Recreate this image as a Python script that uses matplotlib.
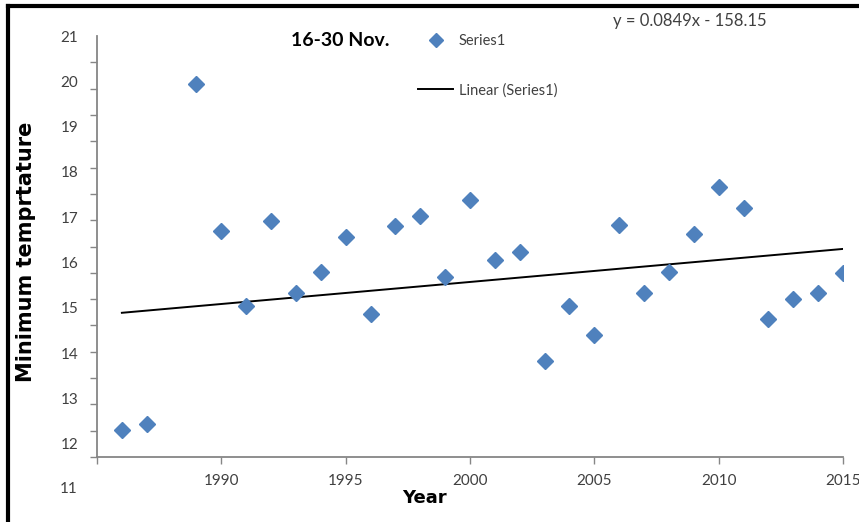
import numpy as np
import matplotlib.pyplot as plt
from matplotlib.lines import Line2D
from matplotlib.transforms import Bbox

# ---- data ----
years = [1986, 1987, 1989, 1990, 1991, 1992, 1993, 1994, 1995, 1996,
         1997, 1998, 1999, 2000, 2001, 2002, 2003, 2004, 2005, 2006,
         2007, 2008, 2009, 2010, 2011, 2012, 2013, 2014, 2015]
tmin = [12.30, 12.43, 19.94, 16.70, 15.04, 16.92, 15.33, 15.79, 16.56, 14.86,
        16.81, 17.03, 15.68, 17.38, 16.06, 16.23, 13.83, 15.04, 14.40, 16.83,
        15.33, 15.79, 16.63, 17.67, 17.20, 14.75, 15.19, 15.33, 15.77]
# trend line as drawn in the reference (end points)
trend_years = [1986, 2015]
trend_vals = [14.89, 16.30]
x_ticks = [1985, 1990, 1995, 2000, 2005, 2010, 2015]
x_labels = ["", "1990", "1995", "2000", "2005", "2010", "2015"]
y_labels = [12, 13, 14, 15, 16, 17, 18, 19, 20, 21]
equation = "y = 0.0849x - 158.15"

BLUE = "#4F81BD"
GREY = "#868686"
TXT = "#404040"
plt.rcParams["font.family"] = ["Lato", "DejaVu Sans"]

fig = plt.figure(figsize=(8.59, 5.22), dpi=100)
ax = fig.add_axes([97/859, 1-457/522, (843-97)/859, (457-36)/522])

ax.plot(trend_years, trend_vals, color="black", lw=1.4,
        label="Linear (Series1)", zorder=2)
ax.plot(years, tmin, ls="none", marker="D", ms=8.5, color=BLUE, mec=BLUE,
        label="Series1", zorder=3)

ax.set_xlim(1985, 2015)
ax.set_ylim(11.707, 21)
ax.set_xticks(x_ticks)
ax.set_xticklabels(x_labels)
ax.set_yticks(y_labels)
ax.set_yticklabels([str(v) for v in y_labels])
ax.set_yticks(np.linspace(11.707, 21, 17), minor=True)
ax.tick_params(axis="y", which="major", length=0, pad=13.5, labelsize=11, labelcolor=TXT)
ax.tick_params(axis="y", which="minor", length=5, color=GREY, width=1)
ax.tick_params(axis="x", length=5, color=GREY, width=1, labelsize=11,
               labelcolor=TXT, pad=7)
for s in ("top", "right"):
    ax.spines[s].set_visible(False)
for s in ("left", "bottom"):
    ax.spines[s].set_color(GREY)
    ax.spines[s].set_linewidth(1.3)

# the "11" label sits below the axis and is partly cut off
t11 = ax.text(1985 - 19/24.87, 11, "11", ha="right", va="center", fontsize=11,
              color=TXT, clip_on=False)
t11.set_clip_box(Bbox.from_extents(0, 29, 859, 522))
t11.set_clip_on(True)

h, l = ax.get_legend_handles_labels()
leg = ax.legend(handles=h[::-1], labels=l[::-1], loc="upper left",
                bbox_to_anchor=(405/859, 1-21/522), bbox_transform=fig.transFigure,
                frameon=False, fontsize=10.5, handlelength=2.4, labelspacing=2.4,
                handletextpad=0.4, markerscale=0.8)
for t in leg.get_texts():
    t.set_color(TXT)

fig.text(340/859, 1-41/522, "16-30 Nov.", ha="center", va="center",
         fontsize=14, fontweight="bold", color="black")
fig.text(690/859, 1-21/522, equation, ha="center", va="center",
         fontsize=12, color=TXT)
fig.text(26/859, 1-252/522, "Minimum temprtature", rotation=90, ha="center",
         va="center", fontsize=15, fontweight="bold", family="DejaVu Sans")
fig.text(424/859, 1-498/522, "Year", ha="center", va="center",
         fontsize=13, fontweight="bold", family="DejaVu Sans")

# outer frame of the pasted chart
fig.add_artist(Line2D([8/859, 8/859], [0, 1-6/522], color="black", lw=3,
                      transform=fig.transFigure))
fig.add_artist(Line2D([8/859, 1], [1-6/522, 1-6/522], color="black", lw=3,
                      transform=fig.transFigure))

fig.savefig("out.png", dpi=100)
